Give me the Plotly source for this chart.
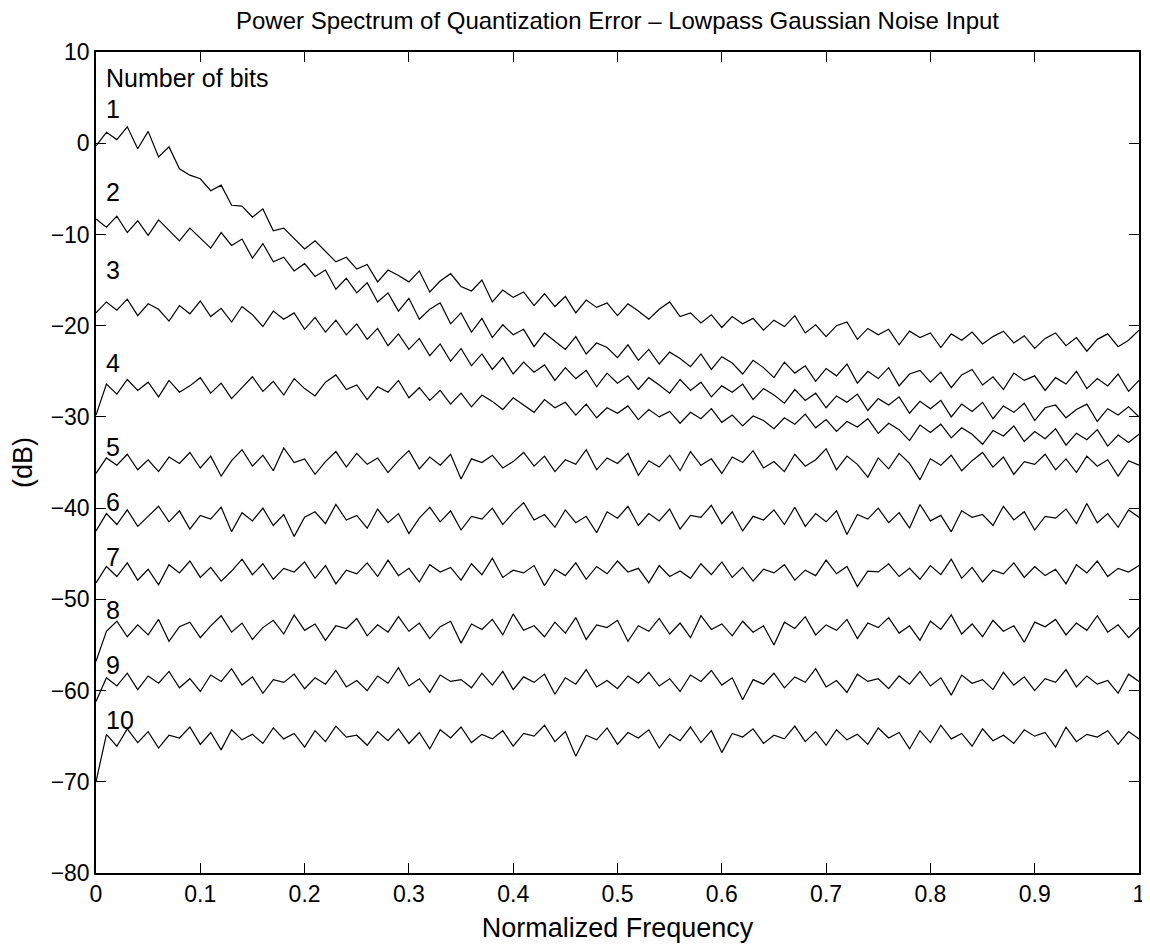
import numpy as np
import plotly.graph_objects as go

title = "Power Spectrum of Quantization Error \u2013 Lowpass Gaussian Noise Input"
x_title = "Normalized Frequency"
y_title = "(dB)"
x_ticks = [0, 0.1, 0.2, 0.3, 0.4, 0.5, 0.6, 0.7, 0.8, 0.9, 1]
y_ticks = [10, 0, -10, -20, -30, -40, -50, -60, -70, -80]

bits_1 = [-0.3, 1.2, 0.4, 1.8, -0.6, 1.3, -1.5, -0.4, -2.8, -3.5, -3.9, -5.2, -4.6, -6.8, -6.9, -8.1, -7.2, -9.6, -9.3, -10.5,
          -11.6, -10.7, -11.8, -13.0, -12.5, -13.8, -13.3, -15.2, -13.9, -14.5, -15.2, -14.0, -16.3, -15.1, -14.3, -15.7, -16.2, -15.0, -17.4, -16.1,
          -16.9, -16.3, -17.8, -16.5, -17.9, -16.8, -18.6, -17.2, -18.0, -17.5, -18.9, -17.6, -18.4, -19.3, -18.2, -17.4, -19.0, -18.6, -19.7, -18.8,
          -20.2, -19.0, -19.8, -19.2, -20.5, -19.4, -20.1, -18.9, -20.8, -19.9, -21.2, -20.0, -19.6, -21.5, -20.3, -21.0, -20.4, -22.1, -20.6, -21.3,
          -20.8, -22.4, -20.9, -21.6, -20.7, -22.0, -21.2, -20.6, -21.9, -21.1, -22.5, -21.4, -20.8, -22.2, -21.3, -22.8, -21.5, -20.9, -22.3, -21.6, -20.5]
bits_2 = [-8.3, -9.2, -8.0, -9.8, -8.5, -10.1, -8.4, -9.6, -10.7, -9.3, -10.4, -11.5, -9.8, -11.2, -10.5, -12.6, -11.0, -13.0, -12.5, -14.0,
          -13.2, -14.6, -13.9, -16.0, -14.8, -16.4, -15.3, -17.4, -16.4, -18.4, -17.0, -19.3, -18.2, -17.5, -19.8, -18.6, -20.7, -19.2, -21.3, -19.9,
          -21.0, -20.4, -22.3, -20.8, -21.7, -22.6, -21.2, -23.1, -21.9, -22.4, -23.5, -22.1, -23.8, -22.6, -24.2, -22.9, -23.6, -24.5, -23.1, -24.8,
          -23.4, -24.1, -25.3, -23.8, -24.6, -25.7, -24.0, -25.2, -24.4, -26.1, -24.7, -25.5, -24.2, -26.3, -25.0, -25.8, -24.6, -26.6, -25.3, -24.9,
          -26.2, -25.1, -26.8, -25.4, -24.8, -26.5, -25.6, -27.0, -25.2, -26.0, -25.5, -27.1, -25.7, -26.4, -25.0, -26.9, -25.8, -26.6, -25.3, -27.2, -26.0]
bits_3 = [-18.6, -17.4, -18.3, -17.1, -18.9, -17.6, -18.2, -19.5, -17.8, -18.7, -17.3, -19.0, -18.1, -19.6, -17.9, -18.8, -20.1, -18.4, -19.3, -18.6,
          -20.4, -19.1, -20.7, -19.4, -21.0, -19.8, -21.5, -20.3, -22.2, -20.9, -22.6, -21.4, -23.3, -22.0, -23.9, -22.5, -24.4, -23.1, -24.8, -23.5,
          -25.3, -24.0, -25.1, -24.3, -26.0, -24.6, -25.8, -24.9, -26.7, -25.2, -26.3, -25.5, -27.0, -25.7, -26.5, -27.4, -25.9, -27.1, -26.2, -27.8,
          -26.6, -27.3, -26.4, -28.1, -26.9, -27.6, -28.5, -27.0, -28.2, -27.4, -29.0, -27.7, -28.4, -27.5, -29.3, -28.0, -28.7, -27.8, -29.6, -28.3,
          -29.1, -28.2, -30.0, -28.6, -29.4, -28.4, -30.2, -28.8, -29.5, -28.5, -30.4, -29.0, -28.7, -30.1, -29.2, -28.6, -30.5, -29.1, -29.8, -28.9, -30.0]
bits_4 = [-29.8, -26.4, -27.5, -25.9, -27.1, -26.2, -27.8, -26.0, -27.3, -26.6, -25.7, -27.4, -26.3, -28.0, -26.8, -25.6, -27.2, -26.1, -27.6, -25.8,
          -26.9, -27.7, -26.2, -25.4, -27.0, -26.5, -28.1, -26.7, -27.3, -26.0, -27.9, -26.8, -28.2, -27.1, -28.6, -27.4, -28.9, -27.6, -28.3, -29.2,
          -27.9, -28.7, -29.5, -28.1, -29.0, -28.4, -29.8, -28.6, -30.1, -29.0, -29.6, -28.8, -30.3, -29.2, -30.0, -29.4, -30.7, -29.5, -30.2, -29.1,
          -30.6, -29.8, -31.0, -29.9, -30.4, -31.3, -30.1, -30.8, -29.7, -31.2, -30.3, -31.6, -30.5, -31.1, -30.2, -31.8, -30.7, -31.4, -32.6, -30.9,
          -31.7, -30.8, -32.3, -31.2, -31.9, -33.0, -31.5, -32.1, -31.0, -32.7, -31.6, -32.4, -31.3, -33.1, -31.8, -32.5, -31.4, -33.2, -32.0, -32.8, -31.9]
bits_5 = [-36.2, -34.5, -35.3, -34.1, -35.8, -34.7, -36.0, -34.4, -35.1, -33.9, -35.6, -34.3, -36.5, -34.8, -33.6, -35.4, -34.2, -35.9, -33.4, -35.0,
          -34.6, -36.3, -34.9, -33.8, -35.5, -34.0, -35.2, -34.5, -36.1, -34.8, -33.7, -35.7, -34.4, -35.3, -34.1, -36.8, -34.6, -35.0, -34.2, -35.6,
          -34.9, -33.9, -35.4, -34.3, -36.0, -34.7, -35.2, -33.6, -35.8, -34.5, -35.1, -34.0, -36.4, -34.8, -35.5, -34.2, -35.9, -33.8, -35.3, -34.6,
          -36.2, -34.4, -35.0, -33.7, -35.6, -34.9, -36.0, -34.1, -35.4, -34.7, -33.5, -35.8, -34.3, -35.2, -36.6, -34.5, -35.7, -34.0, -35.1, -36.9,
          -34.6, -35.3, -34.2, -35.9, -34.8, -33.9, -35.5, -34.4, -36.3, -34.9, -35.2, -34.1, -35.8, -34.6, -36.1, -34.3, -35.4, -34.7, -36.5, -34.8, -35.3]
bits_6 = [-42.5, -40.6, -41.8, -40.2, -42.0, -40.9, -39.8, -41.5, -40.3, -42.3, -40.8, -41.2, -39.9, -42.6, -40.5, -41.4, -40.0, -41.9, -40.7, -43.1,
          -41.0, -40.4, -41.7, -39.6, -41.3, -40.8, -42.2, -40.1, -41.6, -40.6, -42.8, -41.1, -39.9, -41.5, -40.3, -42.4, -40.9, -41.2, -40.0, -41.8,
          -40.5, -39.4, -41.3, -40.7, -42.1, -40.2, -41.6, -40.9, -42.7, -40.4, -41.1, -39.8, -41.9, -40.6, -41.4, -40.1, -42.3, -40.8, -41.0, -39.7,
          -41.7, -40.4, -42.5, -40.9, -41.3, -40.2, -41.8, -39.9, -42.0, -40.6, -41.5, -40.3, -42.9, -40.7, -41.2, -40.0, -41.6, -40.5, -42.2, -39.6,
          -41.4, -40.8, -42.6, -40.3, -41.0, -40.7, -41.9, -39.8, -41.3, -40.4, -42.4, -40.9, -41.1, -40.1, -41.7, -39.5, -41.6, -40.6, -42.1, -40.2, -41.0]
bits_7 = [-48.2, -46.4, -47.5, -46.0, -47.9, -46.7, -48.4, -46.2, -47.1, -45.8, -47.6, -46.5, -48.0, -46.9, -45.6, -47.3, -46.1, -47.8, -46.6, -47.0,
          -45.9, -47.7, -46.3, -48.3, -46.8, -47.2, -46.0, -47.5, -45.7, -47.4, -46.6, -48.1, -46.2, -47.0, -46.5, -47.9, -46.1, -47.3, -45.5, -47.6,
          -46.8, -47.1, -46.3, -48.5, -46.7, -47.4, -46.0, -47.8, -46.4, -47.2, -45.8, -47.0, -46.6, -48.2, -46.3, -47.5, -46.9, -47.7, -46.1, -47.3,
          -45.9, -47.6, -46.5, -48.0, -46.7, -47.1, -46.2, -47.9, -46.8, -47.4, -45.7, -47.2, -46.4, -48.6, -46.9, -47.0, -46.1, -47.5, -46.6, -47.8,
          -46.3, -47.3, -45.6, -47.7, -46.5, -48.1, -46.8, -47.2, -46.0, -47.6, -46.4, -47.4, -46.7, -48.3, -46.2, -47.1, -45.8, -47.5, -46.6, -47.0, -46.3]
bits_8 = [-56.8, -53.5, -52.4, -54.1, -52.8, -53.9, -52.2, -54.6, -53.0, -52.5, -54.2, -52.9, -51.8, -53.6, -52.6, -54.4, -53.1, -52.3, -53.8, -51.7,
          -53.4, -52.7, -54.5, -52.9, -53.2, -52.1, -54.0, -52.8, -53.6, -51.9, -53.5, -52.6, -54.3, -53.0, -52.4, -54.8, -52.7, -53.3, -52.2, -53.9,
          -51.6, -53.4, -52.9, -54.1, -52.5, -53.7, -52.0, -54.4, -52.8, -53.1, -52.3, -54.6, -52.9, -53.5, -52.1, -53.8, -52.6, -54.2, -51.8, -53.3,
          -52.7, -54.0, -52.4, -53.6, -52.9, -55.0, -52.5, -53.2, -51.9, -53.9, -52.8, -53.4, -52.2, -54.3, -52.6, -53.1, -52.0, -53.7, -52.9, -54.5,
          -52.4, -53.3, -51.7, -53.8, -52.7, -54.1, -52.3, -53.5, -52.9, -54.7, -52.5, -53.0, -52.2, -53.9, -52.6, -53.4, -51.8, -53.6, -52.8, -54.2, -53.1]
bits_9 = [-61.2, -58.6, -59.5, -58.1, -59.9, -58.4, -59.2, -57.9, -59.7, -58.7, -60.1, -58.3, -59.0, -57.6, -59.4, -58.5, -60.3, -58.8, -59.1, -58.2,
          -59.8, -58.6, -59.3, -57.8, -59.6, -58.9, -60.0, -58.4, -59.2, -57.5, -59.5, -58.7, -60.2, -58.3, -59.0, -58.8, -59.7, -58.1, -59.4, -57.9,
          -59.9, -58.5, -59.1, -58.2, -60.4, -58.6, -59.3, -57.7, -59.6, -58.9, -59.8, -58.4, -59.2, -58.0, -59.5, -58.7, -60.1, -58.3, -59.0, -57.8,
          -59.4, -58.6, -61.0, -58.8, -59.3, -58.1, -59.7, -58.5, -59.1, -57.6, -59.6, -58.9, -60.2, -58.2, -59.0, -58.7, -59.8, -58.4, -59.3, -57.9,
          -59.5, -58.6, -60.5, -58.3, -59.2, -58.8, -59.9, -58.0, -59.4, -58.5, -60.0, -58.7, -59.1, -57.7, -59.6, -58.4, -59.3, -58.9, -60.3, -58.2, -59.0]
bits_10 = [-70.0, -64.8, -66.1, -64.2, -65.7, -64.5, -66.3, -64.9, -65.2, -64.0, -65.9, -64.6, -66.5, -64.3, -65.4, -64.8, -65.8, -64.1, -65.3, -64.7,
           -66.2, -64.4, -65.6, -63.9, -65.1, -64.9, -66.0, -64.5, -65.5, -64.2, -65.8, -64.6, -66.4, -64.3, -65.2, -64.0, -65.7, -64.8, -65.3, -64.4,
           -66.1, -64.7, -65.0, -63.8, -65.6, -64.5, -67.2, -64.9, -65.4, -64.1, -65.9, -64.6, -65.2, -64.3, -66.3, -64.8, -65.5, -64.0, -65.7, -64.4,
           -66.8, -64.7, -65.1, -64.2, -65.8, -64.9, -65.3, -63.9, -65.6, -64.5, -66.0, -64.3, -65.4, -64.8, -65.9, -64.1, -65.2, -64.6, -66.4, -64.4,
           -65.7, -63.8, -65.3, -64.7, -66.1, -64.2, -65.5, -64.9, -65.8, -64.3, -65.0, -64.6, -66.2, -64.0, -65.6, -64.8, -65.1, -64.4, -65.9, -64.5, -65.3]

series = [bits_1, bits_2, bits_3, bits_4, bits_5, bits_6, bits_7, bits_8, bits_9, bits_10]

label_texts = ["Number of bits", "1", "2", "3", "4", "5", "6", "7", "8", "9", "10"]
label_y = [7.1, 3.7, -5.35, -13.9, -24.1, -33.3, -39.3, -45.4, -51.2, -57.2, -63.2]
label_x = 0.0085

FONT = "Liberation Sans, Arial, Helvetica, sans-serif"
TICK_FS = 23
TITLE_FS = 24
LABEL_FS = 27
ANN_FS = 25

# The page body adds an 8 px offset, so the figure is sized to fill the rest.
W, H = 1142, 939
L, R, T, B = 88, 11, 44, 74

fig = go.Figure()
for vals in series:
    xs = np.linspace(0, 1, len(vals))
    fig.add_trace(go.Scatter(x=xs, y=vals, mode="lines",
                             line=dict(color="black", width=1.2),
                             showlegend=False, hoverinfo="skip"))

for t, yv in zip(label_texts, label_y):
    fig.add_annotation(x=label_x, y=yv, text=t, showarrow=False,
                       xanchor="left", yanchor="middle", borderpad=0,
                       font=dict(family=FONT, size=ANN_FS, color="black"))

axis_common = dict(showgrid=False, zeroline=False, showline=True, mirror="ticks",
                   linecolor="black", linewidth=1.5, ticks="inside", ticklen=10,
                   tickwidth=1, tickcolor="black", automargin=False,
                   tickfont=dict(family=FONT, size=TICK_FS, color="black"))

fig.update_layout(
    template="none",
    width=W, height=H,
    paper_bgcolor="white", plot_bgcolor="white",
    margin=dict(l=L, r=R, t=T, b=B, pad=0),
    title=dict(text=title, x=(L + (W - L - R) / 2) / W, xanchor="center",
               y=1 - 13 / H, yanchor="middle",
               font=dict(family=FONT, size=TITLE_FS, color="black")),
    xaxis=dict(range=[0, 1], tickvals=x_ticks, ticktext=[str(v) for v in x_ticks],
               title=dict(text=x_title, font=dict(family=FONT, size=LABEL_FS, color="black"), standoff=12),
               **axis_common),
    yaxis=dict(range=[-80, 10], tickvals=y_ticks,
               title=dict(text=y_title, font=dict(family=FONT, size=LABEL_FS, color="black"), standoff=25),
               **axis_common),
)

fig.write_html("out.html")
